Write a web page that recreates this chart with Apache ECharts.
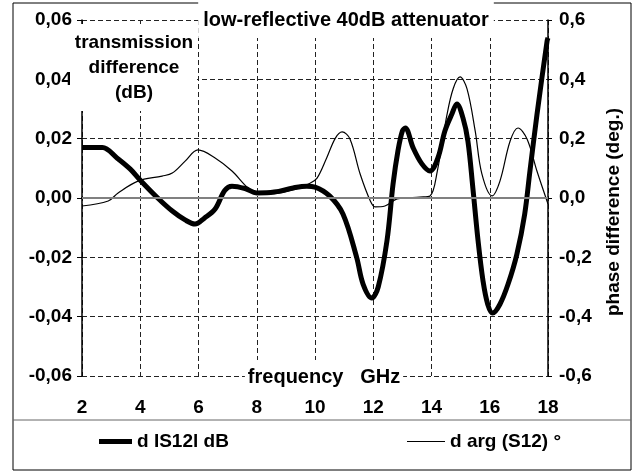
<!DOCTYPE html>
<html>
<head>
<meta charset="utf-8">
<script src="https://cdn.jsdelivr.net/npm/echarts@6/dist/echarts.min.js"></script>
<style>
  html, body { margin: 0; padding: 0; background: #fff; }
  #chart { width: 640px; height: 472px; }
</style>
</head>
<body>
<div id="chart"></div>
<script>
// d |S12| in dB (left axis)
const ampFreq = [2, 2.7, 3.2, 3.65, 4.0, 4.6, 5.1, 5.54, 5.88, 6.2, 6.57, 6.9, 7.15, 7.6, 8.0, 8.6, 9.25, 9.72, 10.0, 10.5, 10.96,
  11.43, 11.65, 11.95, 12.17, 12.47, 12.68, 12.85, 13.0, 13.1, 13.37, 13.67, 13.95, 14.22, 14.46, 14.7, 14.87, 15.08,
  15.25, 15.42, 15.6, 15.77, 15.93, 16.1, 16.35, 16.63, 16.93, 17.2, 17.38, 17.62, 17.97, 18];
const ampDiff = [0.017, 0.017, 0.0135, 0.0098, 0.006, 0.0, -0.0044, -0.0074, -0.0088, -0.0068, -0.0037, 0.0025, 0.004, 0.0032, 0.0017, 0.002,
  0.0034, 0.004, 0.0037, 0.0007, -0.0054, -0.020, -0.029, -0.0337, -0.030, -0.0145, 0.0047, 0.016, 0.0226, 0.0236, 0.0169,
  0.0115, 0.0091, 0.0135, 0.0226, 0.0283, 0.0317, 0.027, 0.0192, 0.0034, -0.0145, -0.028, -0.0358, -0.0388, -0.0358,
  -0.029, -0.019, -0.0054, 0.0091, 0.028, 0.053, 0.054];

// d arg(S12) in degrees (right axis)
const phaseFreq = [2, 2.9, 3.24, 3.92, 4.75, 5.1, 5.55, 5.98, 6.57, 7.15, 7.7, 8.0, 8.6, 9.25, 9.83, 10.07, 10.4, 10.7, 10.93, 11.2,
  11.55, 11.9, 12.06, 12.4, 12.82, 13.2, 13.6, 13.95, 14.2, 14.53, 14.75, 14.98, 15.22, 15.5, 15.73, 16.08, 16.35, 16.7,
  16.97, 17.28, 17.62, 18];
const phaseDiff = [-0.027, -0.01, 0.017, 0.057, 0.074, 0.084, 0.125, 0.162, 0.135, 0.091, 0.034, 0.02, 0.015, 0.027, 0.05, 0.067,
  0.135, 0.202, 0.223, 0.199, 0.081, -0.01, -0.03, -0.027, -0.003, 0.0, 0.003, 0.007, 0.091, 0.28, 0.37, 0.408, 0.368,
  0.226, 0.081, 0.007, 0.057, 0.192, 0.236, 0.199, 0.091, -0.02];

const font = '"Liberation Sans", Arial, sans-serif';
const fs = 19;

function comma(v, d) {
  if (Math.abs(v) < 1e-9) v = 0;
  return v.toFixed(d).replace('.', ',');
}

const gridLine = { show: true, lineStyle: { color: '#222', width: 1, type: [5, 3] } };
const axisText = { color: '#000', fontFamily: font, fontWeight: 'bold', fontSize: fs };
const legendText = { color: '#000', fontFamily: font, fontWeight: 'bold', fontSize: fs };

const chart = echarts.init(document.getElementById('chart'));
chart.setOption({
  backgroundColor: '#fff',
  animation: false,
  grid: { left: 82, right: 92, top: 20, bottom: 96 },
  legend: [
    {
      left: 94, top: 427, icon: 'rect', itemWidth: 33, itemHeight: 5, data: ['d IS12l dB'],
      textStyle: legendText
    },
    {
      left: 402, top: 427, icon: 'rect', itemWidth: 38, itemHeight: 1, data: ['d arg (S12) °'],
      textStyle: legendText
    }
  ],
  xAxis: [
    {
      type: 'value', min: 2, max: 18, interval: 2, position: 'bottom',
      axisLine: { show: true, lineStyle: { color: '#000', width: 1.5 } },
      axisTick: { show: false },
      axisLabel: Object.assign({ margin: 22 }, axisText),
      splitLine: gridLine
    },
    {
      type: 'value', min: 2, max: 18, interval: 2, position: 'top',
      axisLine: { show: true, lineStyle: { color: '#000', width: 1.5 } },
      axisTick: { show: false }, axisLabel: { show: false }, splitLine: { show: false }
    }
  ],
  yAxis: [
    {
      type: 'value', min: -0.06, max: 0.06, interval: 0.02, position: 'left',
      axisLine: { show: true, lineStyle: { color: '#000', width: 1.5 } },
      axisTick: { show: true, inside: false, length: 5, lineStyle: { color: '#000' } },
      axisLabel: Object.assign({ margin: 10, formatter: v => comma(v, 2) }, axisText),
      splitLine: gridLine
    },
    {
      type: 'value', min: -0.6, max: 0.6, interval: 0.2, position: 'right',
      axisLine: { show: true, lineStyle: { color: '#000', width: 1.5 } },
      axisTick: { show: true, inside: false, length: 4, lineStyle: { color: '#000' } },
      axisLabel: Object.assign({ margin: 11, formatter: v => comma(v, 1) }, axisText),
      splitLine: { show: false }
    }
  ],
  series: [
    {
      name: 'd arg (S12) °', type: 'line', xAxisIndex: 0, yAxisIndex: 1,
      data: phaseFreq.map((f, i) => [f, phaseDiff[i]]),
      smooth: 0.35, symbol: 'none',
      lineStyle: { color: '#000', width: 1.2 },
      itemStyle: { color: '#000' },
      markLine: {
        silent: true, symbol: 'none', label: { show: false },
        lineStyle: { color: '#808080', width: 2, type: 'solid' },
        data: [{ yAxis: 0 }]
      }
    },
    {
      name: 'd IS12l dB', type: 'line', xAxisIndex: 0, yAxisIndex: 0,
      data: ampFreq.map((f, i) => [f, ampDiff[i]]),
      smooth: 0.35, symbol: 'none',
      lineStyle: { color: '#000', width: 5 },
      itemStyle: { color: '#000' }
    }
  ],
  graphic: [
    { type: 'rect', z: 90, shape: { x: 13, y: 3, width: 618, height: 467 }, style: { fill: 'none', stroke: '#000', lineWidth: 1 } },
    { type: 'line', z: 90, shape: { x1: 13, y1: 420, x2: 631, y2: 420 }, style: { stroke: '#666', lineWidth: 1 } },
    { type: 'rect', z: 100, shape: { x: 70, y: 24, width: 127, height: 87 }, style: { fill: '#fff' } },
    {
      type: 'text', z: 101, x: 134, y: 30,
      style: {
        text: 'transmission\ndifference\n(dB)', align: 'center', verticalAlign: 'top', lineHeight: 25,
        font: 'bold ' + fs + 'px ' + font, fill: '#000'
      }
    },
    {
      type: 'text', z: 101, x: 346, y: 20,
      style: {
        text: 'low-reflective 40dB attenuator', align: 'center', verticalAlign: 'middle',
        font: 'bold 20px ' + font, fill: '#000', backgroundColor: '#fff', padding: [8, 5]
      }
    },
    {
      type: 'text', z: 101, x: 324, y: 377,
      style: {
        text: 'frequency   GHz', align: 'center', verticalAlign: 'middle',
        font: 'bold 20px ' + font, fill: '#000', backgroundColor: '#fff', padding: [7, 3]
      }
    },
    {
      type: 'text', z: 101, x: 614, y: 212, rotation: Math.PI / 2,
      style: {
        text: 'phase difference (deg.)', align: 'center', verticalAlign: 'middle',
        font: 'bold ' + fs + 'px ' + font, fill: '#000'
      }
    }
  ]
});
</script>
</body>
</html>
